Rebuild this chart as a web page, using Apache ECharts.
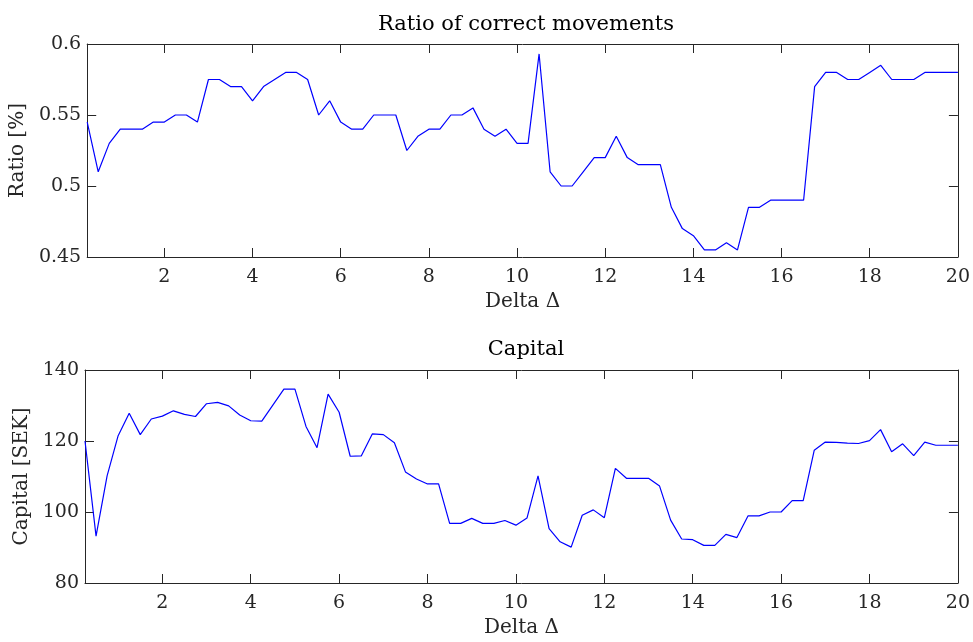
<!DOCTYPE html>
<html>
<head>
<meta charset="utf-8">
<title>Ratio of correct movements / Capital</title>
<script src="https://cdn.jsdelivr.net/npm/echarts@6/dist/echarts.min.js"></script>
<style>
  html, body { margin: 0; padding: 0; background: #ffffff; }
  #chart { width: 973px; height: 642px; }
</style>
</head>
<body>
<div id="chart"></div>
<script>
// Delta values (x axis)
const delta = [
  0.25, 0.5, 0.75, 1, 1.25, 1.5, 1.75, 2, 2.25, 2.5, 2.75, 3, 3.25, 3.5, 3.75, 4,
  4.25, 4.5, 4.75, 5, 5.25, 5.5, 5.75, 6, 6.25, 6.5, 6.75, 7, 7.25, 7.5, 7.75, 8,
  8.25, 8.5, 8.75, 9, 9.25, 9.5, 9.75, 10, 10.25, 10.5, 10.75, 11, 11.25, 11.5, 11.75, 12,
  12.25, 12.5, 12.75, 13, 13.25, 13.5, 13.75, 14, 14.25, 14.5, 14.75, 15, 15.25, 15.5, 15.75, 16,
  16.25, 16.5, 16.75, 17, 17.25, 17.5, 17.75, 18, 18.25, 18.5, 18.75, 19, 19.25, 19.5, 19.75, 20
];

// ratio of correct movements
const ratio = [
  0.545, 0.51, 0.53, 0.54, 0.54, 0.54, 0.545, 0.545, 0.55, 0.55, 0.545, 0.575, 0.575, 0.57, 0.57, 0.56,
  0.57, 0.575, 0.58, 0.58, 0.575, 0.55, 0.56, 0.545, 0.54, 0.54, 0.55, 0.55, 0.55, 0.525, 0.535, 0.54,
  0.54, 0.55, 0.55, 0.555, 0.54, 0.535, 0.54, 0.53, 0.53, 0.593, 0.51, 0.5, 0.5, 0.51, 0.52, 0.52,
  0.535, 0.52, 0.515, 0.515, 0.515, 0.485, 0.47, 0.465, 0.455, 0.455, 0.46, 0.455, 0.485, 0.485, 0.49, 0.49,
  0.49, 0.49, 0.57, 0.58, 0.58, 0.575, 0.575, 0.58, 0.585, 0.575, 0.575, 0.575, 0.58, 0.58, 0.58, 0.58
];

// capital [SEK]
const capital = [
  120, 93.2, 110.2, 121.5, 127.8, 121.8, 126.2, 127.0, 128.5, 127.5, 126.9, 130.5, 130.9, 129.9, 127.3, 125.7,
  125.6, 130.1, 134.6, 134.6, 124.1, 118.1, 133.2, 128.1, 115.7, 115.8, 122.0, 121.8, 119.5, 111.3, 109.3, 107.9,
  107.9, 96.8, 96.8, 98.2, 96.8, 96.8, 97.6, 96.3, 98.3, 110.2, 95.3, 91.6, 90.1, 99.1, 100.6, 98.4,
  112.3, 109.5, 109.5, 109.5, 107.3, 97.7, 92.4, 92.2, 90.6, 90.6, 93.7, 92.8, 98.9, 98.9, 100.0, 100.0,
  103.2, 103.2, 117.4, 119.7, 119.6, 119.4, 119.3, 120.1, 123.2, 117.0, 119.2, 115.9, 119.7, 118.8, 118.8, 118.8
];

// tick labels
const xTicks = [2, 4, 6, 8, 10, 12, 14, 16, 18, 20];
const ratioTicks = [0.45, 0.5, 0.55, 0.6];
const capitalTicks = [80, 100, 120, 140];

const chart = echarts.init(document.getElementById('chart'));

const FONT = 'DejaVu Serif';
const INK = '#262626';

// 共用的坐标轴样式（MATLAB 风格，刻度朝内、四边框）
const xAxisBase = (gridIndex, position, showLabel, name) => ({
  type: 'value',
  gridIndex: gridIndex,
  position: position,
  min: 0.25,
  max: 20,
  name: name,
  nameLocation: 'middle',
  nameGap: 35,
  nameTextStyle: { fontFamily: FONT, fontSize: 20, color: INK },
  axisLine: { show: true, onZero: false, lineStyle: { color: INK, width: 1 } },
  axisTick: { show: true, inside: true, length: 9, customValues: xTicks, lineStyle: { color: INK } },
  axisLabel: {
    show: showLabel, customValues: xTicks, margin: 11,
    fontFamily: FONT, fontSize: 19, color: INK
  },
  splitLine: { show: false }
});

const yAxisBase = (gridIndex, position, showLabel, ticks, name, gap) => ({
  type: 'value',
  gridIndex: gridIndex,
  position: position,
  min: ticks[0],
  max: ticks[ticks.length - 1],
  interval: ticks[1] - ticks[0],
  name: name,
  nameLocation: 'middle',
  nameGap: gap,
  nameTextStyle: { fontFamily: FONT, fontSize: 20, color: INK },
  axisLine: { show: true, onZero: false, lineStyle: { color: INK, width: 1 } },
  axisTick: { show: true, inside: true, length: 9, lineStyle: { color: INK } },
  axisLabel: {
    show: showLabel, margin: 6,
    fontFamily: FONT, fontSize: 19, color: INK,
    formatter: v => String(+v.toFixed(3))
  },
  splitLine: { show: false }
});

const option = {
  animation: false,
  backgroundColor: '#ffffff',
  title: [
    {
      text: 'Ratio of correct movements',
      left: 521, top: 9, textAlign: 'center',
      textStyle: { fontFamily: FONT, fontSize: 21, fontWeight: 'normal', color: '#000' }
    },
    {
      text: 'Capital',
      left: 521, top: 334, textAlign: 'center',
      textStyle: { fontFamily: FONT, fontSize: 21, fontWeight: 'normal', color: '#000' }
    }
  ],
  grid: [
    { left: 85, right: 15, top: 44, height: 213 },
    { left: 85, right: 15, top: 370, height: 213 }
  ],
  xAxis: [
    xAxisBase(0, 'bottom', true, 'Delta Δ'),
    xAxisBase(0, 'top', false, ''),
    xAxisBase(1, 'bottom', true, 'Delta Δ'),
    xAxisBase(1, 'top', false, '')
  ],
  yAxis: [
    yAxisBase(0, 'left', true, ratioTicks, 'Ratio [%]', 53),
    yAxisBase(0, 'right', false, ratioTicks, '', 0),
    yAxisBase(1, 'left', true, capitalTicks, 'Capital [SEK]', 48),
    yAxisBase(1, 'right', false, capitalTicks, '', 0)
  ],
  series: [
    {
      name: 'Ratio',
      type: 'line',
      xAxisIndex: 0,
      yAxisIndex: 0,
      data: delta.map((d, i) => [d, ratio[i]]),
      showSymbol: false,
      lineStyle: { color: '#0000ff', width: 1.2 },
      itemStyle: { color: '#0000ff' }
    },
    {
      name: 'Capital',
      type: 'line',
      xAxisIndex: 2,
      yAxisIndex: 2,
      data: delta.map((d, i) => [d, capital[i]]),
      showSymbol: false,
      lineStyle: { color: '#0000ff', width: 1.2 },
      itemStyle: { color: '#0000ff' }
    }
  ]
};

chart.setOption(option);
</script>
</body>
</html>
